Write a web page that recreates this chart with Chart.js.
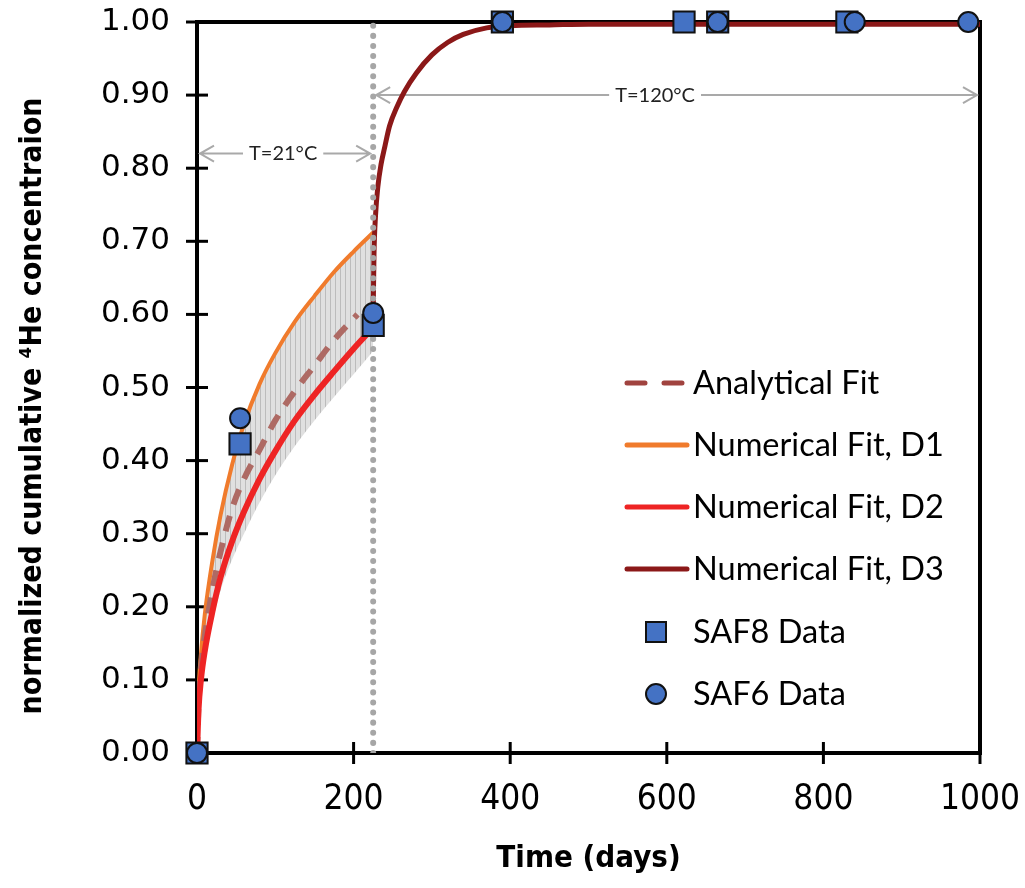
<!DOCTYPE html>
<html>
<head>
<meta charset="utf-8">
<script src="https://cdn.jsdelivr.net/npm/chart.js@4.4.0/dist/chart.umd.min.js"></script>
<style>
  html, body { margin: 0; padding: 0; background: #fff; }
  #wrap { width: 1025px; height: 888px; position: relative; }
</style>
</head>
<body>
<div id="wrap"><canvas id="heChart"></canvas></div>
<script>
// fit curves, 21°C stage (days)
const fitTime = [0, 2, 5, 10, 20, 30, 45, 60, 80, 100, 125, 150, 175, 200, 225];
const numFitD1 = [0, 0.085, 0.135, 0.19, 0.265, 0.325, 0.395, 0.45, 0.505, 0.547, 0.59, 0.625, 0.658, 0.686, 0.712];
const numFitD2 = [0, 0.06, 0.10, 0.14, 0.195, 0.24, 0.29, 0.33, 0.375, 0.413, 0.455, 0.49, 0.522, 0.553, 0.582];
const bandLow = [0, 0.055, 0.09, 0.13, 0.18, 0.222, 0.265, 0.30, 0.343, 0.38, 0.42, 0.455, 0.487, 0.518, 0.55];

const anaTime = [0, 2, 5, 10, 20, 30, 45, 60, 80, 100, 125, 150, 175, 205];
const anaFit = [0, 0.07, 0.115, 0.16, 0.225, 0.275, 0.335, 0.375, 0.415, 0.455, 0.495, 0.53, 0.565, 0.60];

// 120°C stage
const d3Time = [225, 226, 228, 231, 235, 240, 246, 255, 265, 280, 300, 320, 340, 370, 400, 450, 500, 600, 700, 800, 900, 1000];
const numFitD3 = [0.60, 0.68, 0.735, 0.775, 0.805, 0.83, 0.858, 0.883, 0.905, 0.93, 0.955, 0.972, 0.983, 0.992, 0.995, 0.996, 0.997, 0.997, 0.997, 0.997, 0.997, 0.997];

// measured data
const saf8Time = [0, 55, 225, 390, 622, 665, 830];
const saf8 = [0, 0.423, 0.585, 1.0, 1.0, 1.0, 1.0];
const saf6Time = [0, 55, 225, 390, 665, 840, 985];
const saf6 = [0, 0.458, 0.602, 1.0, 1.0, 1.0, 1.0];

// temperature switch + annotation arrows
const switchTime = 225;
const arrowY = [0.82, 0.90];
const arrowFrom = [0, 225];
const arrowTo = [225, 1000];
const arrowText = ['T=21°C', 'T=120°C'];
const arrowTextX = [110, 585];

const xTicks = [0, 200, 400, 600, 800, 1000];
const yTicks = [0, 0.1, 0.2, 0.3, 0.4, 0.5, 0.6, 0.7, 0.8, 0.9, 1.0];
const yTitle = 'normalized cumulative ⁴He concentraion';

function pts(xs, ys) {
    return xs.map((x, i) => ({ x: x, y: ys[i] }));
}

const canvas = document.getElementById('heChart');
const ctx = canvas.getContext('2d');

// grey band with faint vertical hatching
function hatchPattern() {
    const c = document.createElement('canvas');
    c.width = 5; c.height = 10;
    const g = c.getContext('2d');
    g.fillStyle = 'rgba(218,218,218,0.85)';
    g.fillRect(0, 0, 5, 10);
    g.fillStyle = 'rgba(185,185,185,0.9)';
    g.fillRect(0, 0, 1, 10);
    return ctx.createPattern(c, 'repeat');
}

const legendItems = [
    { text: 'Analytical Fit', type: 'dash', color: '#A0433F' },
    { text: 'Numerical Fit, D1', type: 'line', color: '#F07B2C' },
    { text: 'Numerical Fit, D2', type: 'line', color: '#EE2424' },
    { text: 'Numerical Fit, D3', type: 'line', color: '#8B1818' },
    { text: 'SAF8 Data', type: 'rect' },
    { text: 'SAF6 Data', type: 'circle' }
];

const decorPlugin = {
    id: 'decor',
    beforeDatasetsDraw(chart) {
        const c = chart.ctx;
        const xs = chart.scales.x, ys = chart.scales.y;
        const a = chart.chartArea;
        c.save();
        // frame
        c.strokeStyle = '#000';
        c.lineWidth = 4;
        c.strokeRect(a.left, a.top, a.right - a.left, a.bottom - a.top);
        // crossing ticks
        c.lineWidth = 3;
        yTicks.forEach(v => {
            const y = ys.getPixelForValue(v);
            c.beginPath(); c.moveTo(a.left - 11, y); c.lineTo(a.left + 11, y); c.stroke();
        });
        xTicks.forEach(v => {
            const x = xs.getPixelForValue(v);
            c.beginPath(); c.moveTo(x, a.bottom - 11); c.lineTo(x, a.bottom + 11); c.stroke();
        });
        // arrows
        c.strokeStyle = '#A9A9A9';
        c.lineWidth = 2;
        c.font = '20px Lato, "Liberation Sans", sans-serif';
        c.textAlign = 'center';
        c.textBaseline = 'middle';
        arrowY.forEach((v, i) => {
            const y = ys.getPixelForValue(v);
            const x1 = xs.getPixelForValue(arrowFrom[i]) + 3;
            const x2 = xs.getPixelForValue(arrowTo[i]) - 3;
            const tx = xs.getPixelForValue(arrowTextX[i]);
            const tw = c.measureText(arrowText[i]).width / 2 + 6;
            c.beginPath();
            c.moveTo(x1, y); c.lineTo(tx - tw, y);
            c.moveTo(tx + tw, y); c.lineTo(x2, y);
            c.moveTo(x1 + 14, y - 8); c.lineTo(x1, y); c.lineTo(x1 + 14, y + 8);
            c.moveTo(x2 - 14, y - 8); c.lineTo(x2, y); c.lineTo(x2 - 14, y + 8);
            c.stroke();
            c.fillStyle = '#222';
            c.fillText(arrowText[i], tx, y);
        });
        c.restore();
    },
    afterDraw(chart) {
        const c = chart.ctx;
        c.save();
        // y axis title, placed a little below the plot centre like the original
        c.save();
        c.translate(33, 406);
        c.rotate(-Math.PI / 2);
        c.font = 'bold 30px "Liberation Sans Narrow", "DejaVu Sans Condensed", sans-serif';
        c.textAlign = 'center';
        c.textBaseline = 'middle';
        c.fillStyle = '#000';
        c.fillText(yTitle, 0, 0);
        c.restore();

        const lx1 = 625, lx2 = 687, tx = 693;
        const rows = [383, 445, 507, 569, 632, 694];
        c.font = '32.5px Lato, "Liberation Sans", sans-serif';
        c.textBaseline = 'middle';
        c.textAlign = 'left';
        legendItems.forEach((it, i) => {
            const y = rows[i];
            c.lineCap = 'round';
            if (it.type === 'dash' || it.type === 'line') {
                c.strokeStyle = it.color;
                c.lineWidth = 5;
                c.setLineDash(it.type === 'dash' ? [18, 19] : []);
                c.beginPath(); c.moveTo(lx1 + 2, y); c.lineTo(lx2, y); c.stroke();
                c.setLineDash([]);
            } else if (it.type === 'rect') {
                c.fillStyle = '#4472C4'; c.strokeStyle = '#111';
                c.lineWidth = 2;
                c.fillRect(646, y - 10, 20, 20); c.strokeRect(646, y - 10, 20, 20);
            } else {
                c.fillStyle = '#4472C4'; c.strokeStyle = '#111';
                c.lineWidth = 2;
                c.beginPath(); c.arc(656, y, 10, 0, Math.PI * 2); c.fill(); c.stroke();
            }
            c.fillStyle = '#000';
            c.fillText(it.text, tx, y + 1);
        });
        c.restore();
    }
};

new Chart(ctx, {
    type: 'scatter',
    data: {
        datasets: [
            {
                label: 'band',
                data: pts(fitTime, bandLow),
                showLine: true, borderWidth: 0, borderColor: 'rgba(0,0,0,0)',
                pointRadius: 0, cubicInterpolationMode: 'monotone', order: 9
            },
            {
                label: 'Numerical Fit, D1',
                data: pts(fitTime, numFitD1),
                showLine: true, borderColor: '#F07B2C', borderWidth: 4,
                pointRadius: 0, cubicInterpolationMode: 'monotone',
                fill: { target: 0 }, backgroundColor: hatchPattern(), order: 6
            },
            {
                label: 'Analytical Fit',
                data: pts(anaTime, anaFit),
                showLine: true, borderColor: '#AE6A64', borderWidth: 6,
                borderDash: [16, 12], pointRadius: 0, cubicInterpolationMode: 'monotone', order: 5
            },
            {
                label: 'Numerical Fit, D2',
                data: pts(fitTime, numFitD2),
                showLine: true, borderColor: '#EE2424', borderWidth: 6,
                pointRadius: 0, cubicInterpolationMode: 'monotone', order: 4
            },
            {
                label: 'Numerical Fit, D3',
                data: pts(d3Time, numFitD3),
                showLine: true, borderColor: '#8B1818', borderWidth: 5,
                pointRadius: 0, cubicInterpolationMode: 'monotone', order: 3, clip: false
            },
            {
                label: 'switch',
                data: pts([switchTime, switchTime], [0, 1]),
                showLine: true, borderColor: '#A6A6A6', borderWidth: 6,
                borderDash: [0.1, 10], borderCapStyle: 'round', pointRadius: 0, order: 2
            },
            {
                label: 'SAF8 Data',
                data: pts(saf8Time, saf8),
                pointStyle: 'rect', pointRadius: 15, backgroundColor: '#4472C4',
                borderColor: '#111', borderWidth: 2, order: 1, clip: false
            },
            {
                label: 'SAF6 Data',
                data: pts(saf6Time, saf6),
                pointStyle: 'circle', pointRadius: 10, backgroundColor: '#4472C4',
                borderColor: '#111', borderWidth: 2, order: 0, clip: false
            }
        ]
    },
    options: {
        responsive: true,
        maintainAspectRatio: false,
        animation: false,
        layout: { padding: { left: 0, right: 45, top: 22, bottom: 0 } },
        plugins: {
            legend: { display: false },
            tooltip: { enabled: false }
        },
        scales: {
            x: {
                type: 'linear', min: 0, max: 1000,
                grid: { display: false, drawTicks: false },
                border: { display: false },
                ticks: {
                    stepSize: 200, padding: 26, color: '#000',
                    font: { family: '"Liberation Sans Narrow", "DejaVu Sans Condensed", sans-serif', size: 35 },
                    callback: v => String(v)
                },
                title: {
                    display: true, text: 'Time (days)', color: '#000',
                    font: { family: '"Liberation Sans Narrow", "DejaVu Sans Condensed", sans-serif', size: 31, weight: 'bold' },
                    padding: { top: 0, bottom: 10 }
                },
                afterFit(scale) {
                    scale.height = 135;
                    scale.paddingLeft = 0; scale.paddingRight = 0;
                    scale.paddingTop = 0; scale.paddingBottom = 0;
                }
            },
            y: {
                type: 'linear', min: 0, max: 1,
                grid: { display: false, drawTicks: false },
                border: { display: false },
                ticks: {
                    stepSize: 0.1, padding: 27, color: '#000',
                    font: { family: '"DejaVu Sans", Verdana, sans-serif', size: 31 },
                    callback: v => v.toFixed(2)
                },
                title: { display: false },
                afterFit(scale) {
                    scale.width = 197;
                    scale.paddingLeft = 0; scale.paddingRight = 0;
                    scale.paddingTop = 0; scale.paddingBottom = 0;
                }
            }
        }
    },
    plugins: [decorPlugin]
});
</script>
</body>
</html>
